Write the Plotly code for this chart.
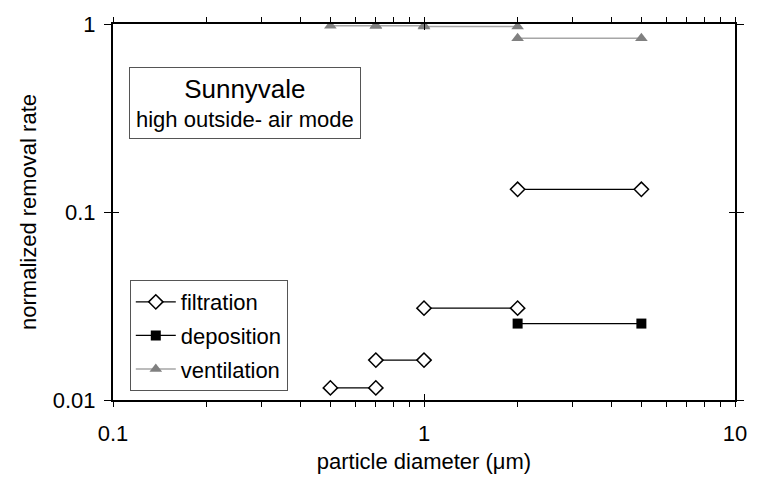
import plotly.graph_objects as go

# Data: each segment spans a particle size bin [x_start, x_end] at a constant rate
filtration_x0 = [0.5, 0.7, 1.0, 2.0]
filtration_x1 = [0.7, 1.0, 2.0, 5.0]
filtration_y = [0.0116, 0.0163, 0.0308, 0.132]

deposition_x0 = [2.0]
deposition_x1 = [5.0]
deposition_y = [0.0255]

ventilation_x0 = [0.5, 0.7, 1.0, 2.0]
ventilation_x1 = [0.7, 1.0, 2.0, 5.0]
ventilation_y = [0.98, 0.98, 0.97, 0.84]

x_tick_vals = [0.1, 0.2, 0.3, 0.4, 0.5, 0.6, 0.7, 0.8, 0.9, 1, 2, 3, 4, 5, 6, 7, 8, 9, 10]
x_major = [0.1, 1, 10]
y_major = [0.01, 0.1, 1]


def segs(x0, x1, y):
    xs, ys = [], []
    for a, b, v in zip(x0, x1, y):
        xs += [a, b, None]
        ys += [v, v, None]
    return xs, ys


FONT = "Liberation Sans, Arial, sans-serif"
fig = go.Figure()

fx, fy = segs(filtration_x0, filtration_x1, filtration_y)
fig.add_trace(go.Scatter(x=fx, y=fy, mode="lines+markers", name="filtration",
                         legendgroup="f",
                         line=dict(color="black", width=1.3),
                         marker=dict(symbol="diamond", size=11, color="white",
                                     line=dict(color="black", width=1.5))))
dx, dy = segs(deposition_x0, deposition_x1, deposition_y)
fig.add_trace(go.Scatter(x=dx, y=dy, mode="lines+markers", name="deposition",
                         legendgroup="d",
                         line=dict(color="black", width=1.3),
                         marker=dict(symbol="square", size=10, color="black")))
vx, vy = segs(ventilation_x0, ventilation_x1, ventilation_y)
fig.add_trace(go.Scatter(x=vx, y=vy, mode="lines+markers", name="ventilation",
                         legendgroup="v",
                         line=dict(color="#a6a6a6", width=1.5),
                         marker=dict(symbol="triangle-up", size=11, color="#808080")))

# overlay axes for crossing tick marks
fig.add_trace(go.Scatter(x=[1], y=[0.1], xaxis="x2", yaxis="y2", mode="markers",
                         marker=dict(opacity=0), showlegend=False, hoverinfo="skip"))

fig.update_layout(
    width=759, height=483,
    margin=dict(l=113, r=24, t=18, b=83),
    paper_bgcolor="white", plot_bgcolor="white",
    font=dict(family=FONT, color="black", size=20),
    showlegend=True,
    legend=dict(x=0.027, y=0.319, xanchor="left", yanchor="top",
                bgcolor="white", bordercolor="#555555", borderwidth=1,
                font=dict(size=22, family=FONT), tracegroupgap=2,
                traceorder="grouped", itemwidth=40),
    xaxis=dict(type="log", range=[-1, 1], showgrid=False, zeroline=False,
               showline=True, linecolor="black", linewidth=2, mirror="allticks",
               ticks="outside", ticklen=5, tickwidth=1, tickcolor="black",
               tickvals=x_tick_vals,
               ticktext=[("%g" % v) if v in x_major else "" for v in x_tick_vals],
               tickfont=dict(size=22), ticklabelstandoff=8,
               title=dict(text="particle diameter (\u03bcm)", font=dict(size=22), standoff=8)),
    yaxis=dict(type="log", range=[-2, 0], showgrid=False, zeroline=False,
               showline=True, linecolor="black", linewidth=2, mirror="allticks",
               ticks="outside", ticklen=7, tickwidth=1, tickcolor="black",
               tickvals=y_major, ticktext=["%g" % v for v in y_major],
               tickfont=dict(size=22), ticklabelstandoff=4,
               title=dict(text="normalized removal rate", font=dict(size=22), standoff=10)),
    xaxis2=dict(type="log", range=[-1, 1], overlaying="x", side="bottom",
                showgrid=False, zeroline=False, showline=False, mirror="allticks",
                ticks="inside", ticklen=6, tickwidth=1, tickcolor="black",
                tickvals=x_major, showticklabels=False),
    yaxis2=dict(type="log", range=[-2, 0], overlaying="y", side="left",
                showgrid=False, zeroline=False, showline=False, mirror="allticks",
                ticks="inside", ticklen=6, tickwidth=1, tickcolor="black",
                tickvals=y_major, showticklabels=False),
    annotations=[dict(
        xref="paper", yref="paper", x=0.212, y=0.789, xanchor="center", yanchor="middle",
        text="<span style='font-size:26px'>Sunnyvale</span><br>high outside- air mode",
        showarrow=False, font=dict(size=22, family=FONT, color="black"),
        bordercolor="#555555", borderwidth=1, borderpad=6, bgcolor="white", align="center")],
)

fig.write_html("out.html")
